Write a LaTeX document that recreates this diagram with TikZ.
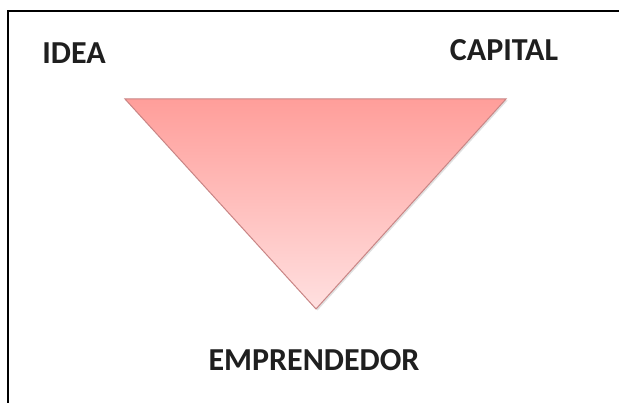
\documentclass[tikz,border=0pt]{standalone}
\usepackage{fontspec}
\setmainfont{Carlito}
\usetikzlibrary{calc}
\definecolor{trianglop}{HTML}{FF9E9A}
\definecolor{trianglob}{HTML}{FFE0E0}
\definecolor{bordetri}{HTML}{C98585}
\tikzset{etiqueta/.style={font=\fontsize{32}{38}\selectfont\bfseries, text=black!88, inner sep=0pt}}

\begin{document}
\begin{tikzpicture}[x=1pt, y=-1pt]
			%%%%% START %%%%%
			\useasboundingbox[fill=white] (0, 0) rectangle (619, 403);
			
			\draw[line width=2pt] (8, 403) -- (8, 11) -- (619, 11);
			
			\coordinate (izq) at (125, 99);
			\coordinate (der) at (506, 99);
			\coordinate (abajo) at (316, 309);
			
			\fill[black!12] ($(izq)+(1.5,1.5)$) -- ($(der)+(1.5,1.5)$) -- ($(abajo)+(1.5,1.5)$) -- cycle;
			\shade[top color=trianglop, bottom color=trianglob, draw=bordetri, line width=1pt] (izq) -- (der) -- (abajo) -- cycle;
			
			\node[etiqueta] (idea) at (74, 53) {IDEA};
			\node[etiqueta] (capital) at (504, 50) {CAPITAL};
			\node[etiqueta] (emprendedor) at (314, 360) {EMPRENDEDOR};
			
			%%%%% END %%%%%
		\end{tikzpicture}
\end{document}
